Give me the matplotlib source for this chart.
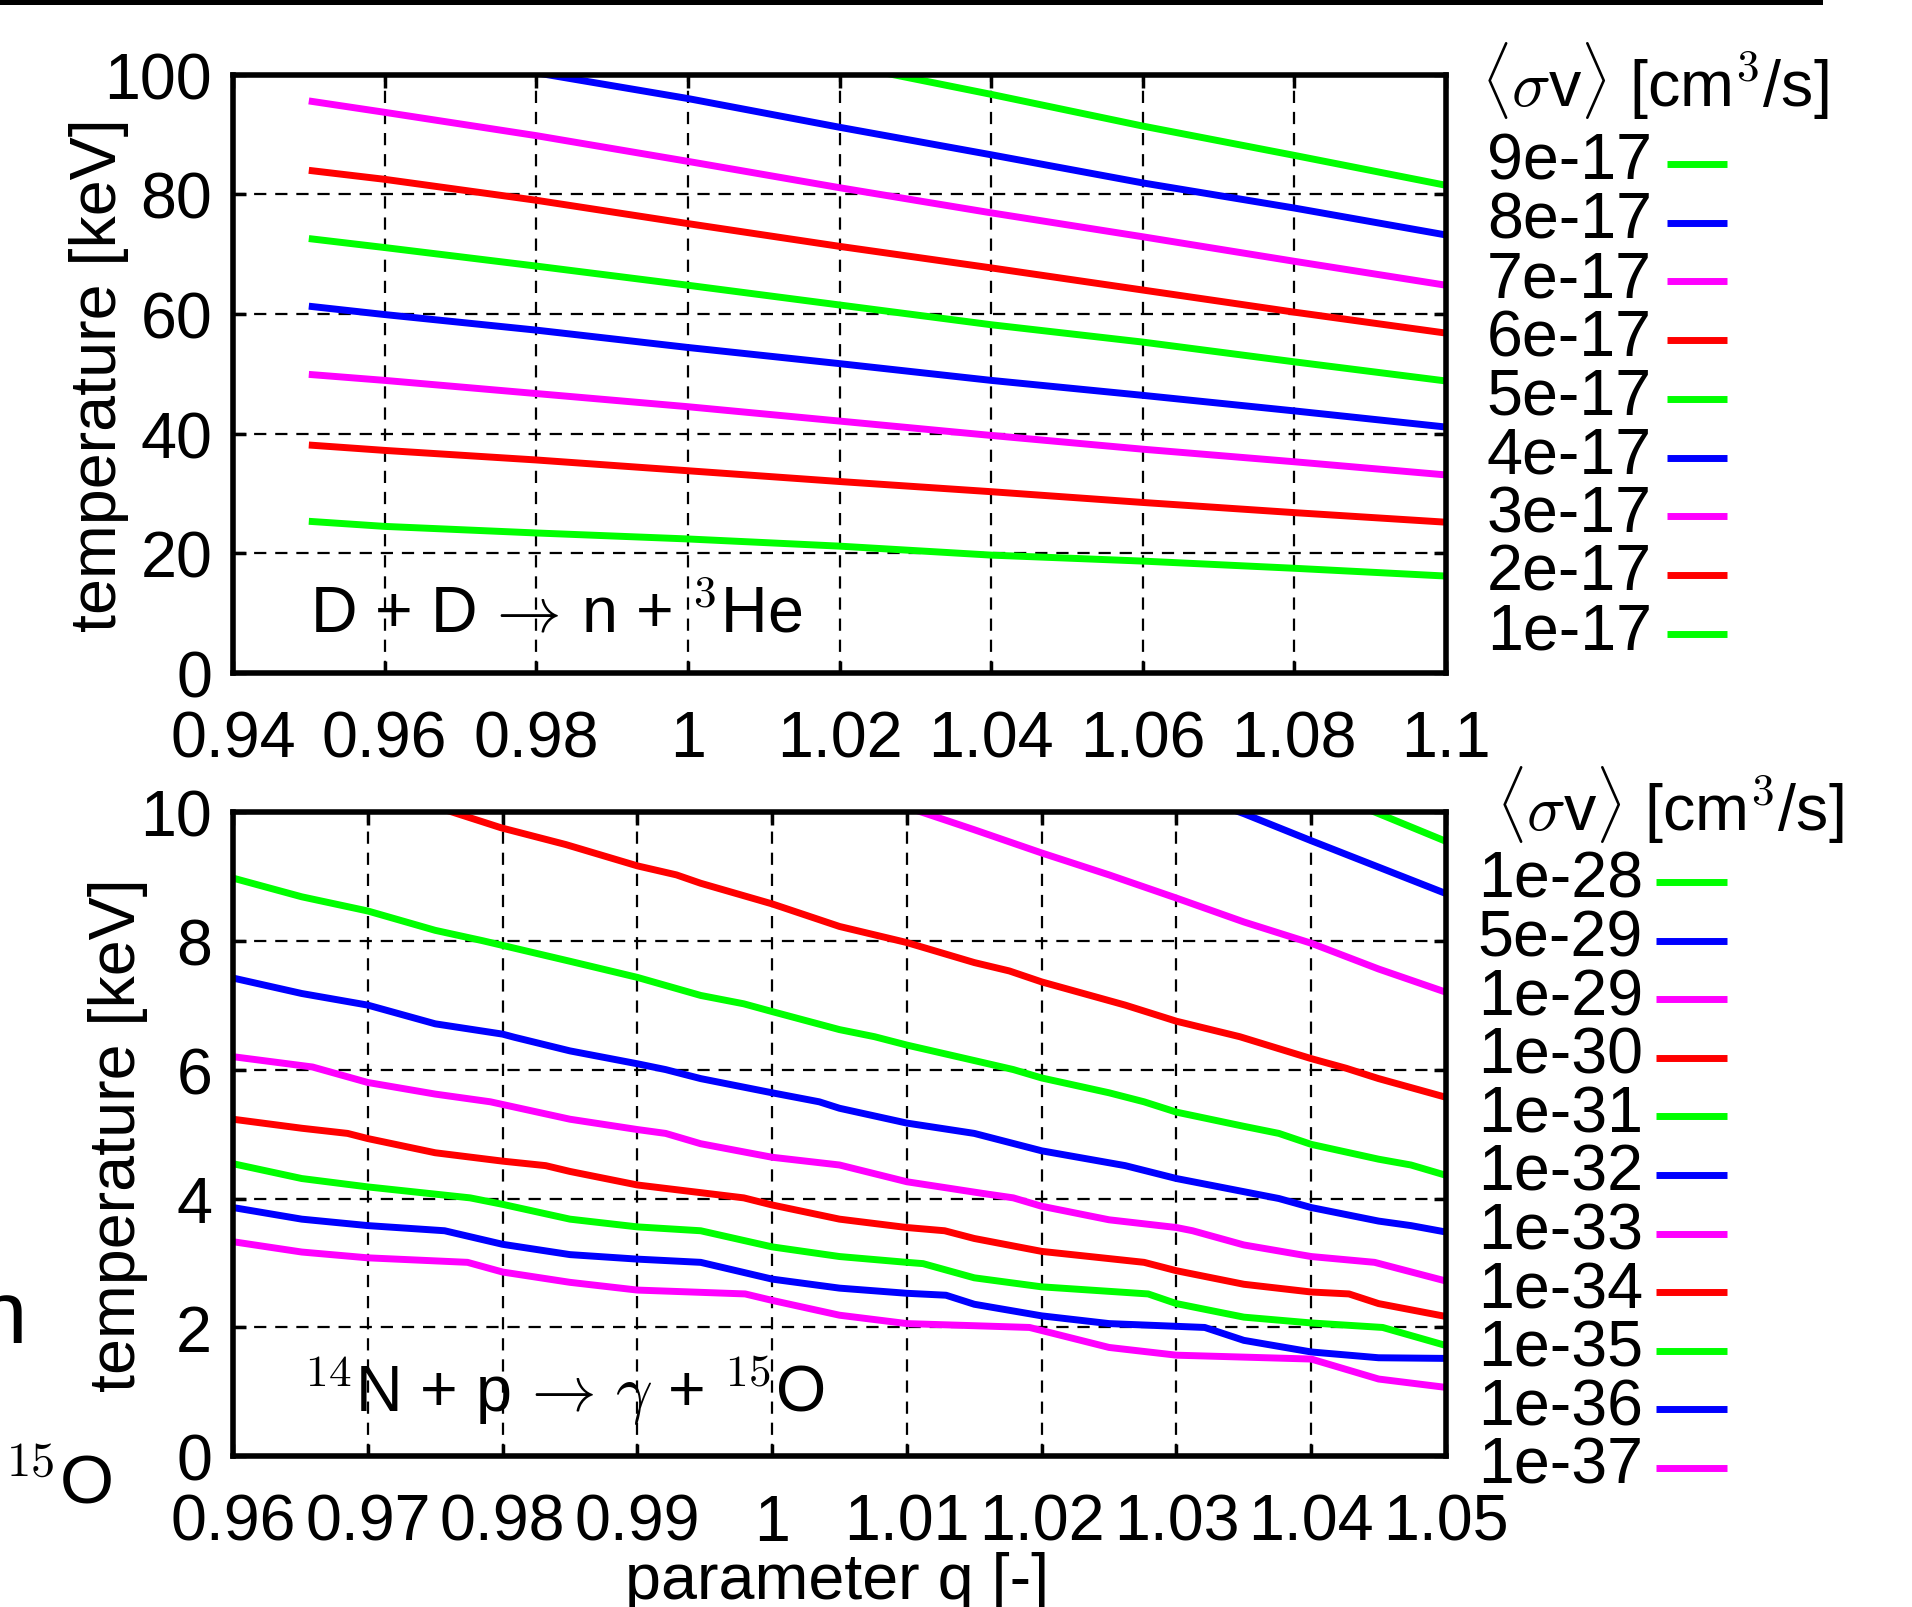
"""
Temperature vs. parameter q for fixed reactivity <sigma v>,
D + D -> n + 3He (top) and 14N + p -> gamma + 15O (bottom)
"""
import numpy as np
import matplotlib
matplotlib.use('Agg')
import matplotlib.pyplot as plt
from matplotlib.ticker import FormatStrFormatter
from matplotlib.lines import Line2D
from matplotlib.patches import Rectangle

plt.rcParams.update({
    'font.family': ['Liberation Sans', 'DejaVu Sans'],
    'font.size': 46.5,
    'mathtext.fontset': 'cm',
})

GREEN = '#00ff00'
BLUE = '#0000ff'
MAGENTA = '#ff00ff'
RED = '#ff0000'

# ---- D + D -> n + 3He, temperature [keV] ----
q_dd = [0.95, 0.96, 0.98, 1.00, 1.02, 1.04, 1.06, 1.08, 1.10]
T_dd_9e17 = [118.5, 116.0, 111.5, 106.6, 101.8, 96.7, 91.4, 86.5, 81.5]
T_dd_8e17 = [106.8, 104.6, 100.3, 96.0, 91.2, 86.6, 81.9, 77.7, 73.2]
T_dd_7e17 = [95.6, 93.7, 89.8, 85.5, 81.1, 76.9, 72.9, 68.8, 64.8]
T_dd_6e17 = [84.0, 82.5, 79.0, 75.1, 71.3, 67.7, 64.0, 60.3, 56.8]
T_dd_5e17 = [72.6, 71.1, 68.0, 64.8, 61.5, 58.2, 55.3, 52.0, 48.8]
T_dd_4e17 = [61.3, 59.9, 57.3, 54.4, 51.7, 48.9, 46.4, 43.8, 41.1]
T_dd_3e17 = [49.9, 48.9, 46.7, 44.5, 42.1, 39.7, 37.4, 35.3, 33.1]
T_dd_2e17 = [38.1, 37.2, 35.6, 33.8, 32.0, 30.3, 28.5, 26.8, 25.2]
T_dd_1e17 = [25.35, 24.5, 23.4, 22.4, 21.2, 19.7, 18.7, 17.5, 16.2]

dd_labels = ['9e-17', '8e-17', '7e-17', '6e-17', '5e-17',
             '4e-17', '3e-17', '2e-17', '1e-17']
dd_T = [T_dd_9e17, T_dd_8e17, T_dd_7e17, T_dd_6e17, T_dd_5e17,
        T_dd_4e17, T_dd_3e17, T_dd_2e17, T_dd_1e17]
dd_colors = [GREEN, BLUE, MAGENTA, RED, GREEN, BLUE, MAGENTA, RED, GREEN]

# ---- 14N + p -> gamma + 15O, contour vertices (q, T [keV]) ----
q_1e28 = [1.04, 1.045, 1.05]
T_1e28 = [10.40, 9.97, 9.54]

q_5e29 = [1.03, 1.035, 1.04, 1.045, 1.05]
T_5e29 = [10.35, 9.97, 9.55, 9.14, 8.73]

q_1e29 = [1.005, 1.01, 1.015, 1.02, 1.025, 1.03, 1.035, 1.04, 1.045, 1.05]
T_1e29 = [10.42, 10.07, 9.72, 9.36, 9.02, 8.66, 8.29, 7.96, 7.56, 7.20]

q_1e30 = [0.97, 0.975, 0.9799, 0.9847, 0.99, 0.9929, 0.9947, 1.0, 1.005, 1.01,
          1.015, 1.0176, 1.02, 1.0262, 1.03, 1.0347, 1.04, 1.0426, 1.045, 1.05]
T_1e30 = [10.45, 10.08, 9.75, 9.49, 9.16, 9.02, 8.89, 8.57, 8.22, 7.97,
          7.66, 7.53, 7.36, 7.00, 6.75, 6.51, 6.17, 6.02, 5.86, 5.57]

q_1e31 = [0.96, 0.9651, 0.97, 0.975, 0.9785, 0.985, 0.99, 0.9947, 0.9979, 1.0,
          1.005, 1.0076, 1.01, 1.015, 1.0179, 1.02, 1.025, 1.0276, 1.03, 1.035,
          1.0376, 1.04, 1.045, 1.0474, 1.05]
T_1e31 = [8.97, 8.68, 8.46, 8.16, 8.00, 7.68, 7.43, 7.15, 7.02, 6.90,
          6.62, 6.51, 6.38, 6.14, 6.00, 5.87, 5.64, 5.50, 5.34, 5.12,
          5.01, 4.84, 4.61, 4.52, 4.36]

q_1e32 = [0.96, 0.9651, 0.97, 0.975, 0.98, 0.9809, 0.985, 0.99, 0.9921, 0.9947,
          1.0, 1.0035, 1.005, 1.01, 1.015, 1.02, 1.0262, 1.03, 1.0376, 1.04,
          1.045, 1.0474, 1.05]
T_1e32 = [7.42, 7.18, 7.00, 6.71, 6.55, 6.50, 6.29, 6.09, 6.00, 5.86,
          5.64, 5.50, 5.40, 5.17, 5.01, 4.74, 4.51, 4.31, 4.00, 3.86,
          3.65, 3.58, 3.48]

q_1e33 = [0.96, 0.9659, 0.97, 0.975, 0.9791, 0.985, 0.99, 0.9921, 0.9947, 1.0,
          1.005, 1.01, 1.0156, 1.0179, 1.02, 1.025, 1.03, 1.0312, 1.035, 1.04,
          1.0447, 1.05]
T_1e33 = [6.20, 6.04, 5.80, 5.62, 5.50, 5.23, 5.07, 5.01, 4.85, 4.64,
          4.52, 4.26, 4.08, 4.01, 3.88, 3.67, 3.55, 3.50, 3.28, 3.10,
          3.01, 2.72]

q_1e34 = [0.96, 0.9651, 0.9685, 0.97, 0.975, 0.98, 0.9832, 0.985, 0.99, 0.9979,
          1.0, 1.005, 1.01, 1.0128, 1.015, 1.02, 1.0276, 1.03, 1.035, 1.04,
          1.0428, 1.045, 1.05]
T_1e34 = [5.23, 5.09, 5.01, 4.93, 4.71, 4.58, 4.51, 4.42, 4.21, 4.01,
          3.90, 3.68, 3.55, 3.50, 3.38, 3.18, 3.01, 2.88, 2.67, 2.55,
          2.52, 2.37, 2.17]

q_1e35 = [0.96, 0.9651, 0.97, 0.9776, 0.98, 0.985, 0.99, 0.9947, 1.0, 1.005,
          1.01, 1.0112, 1.015, 1.02, 1.0279, 1.03, 1.035, 1.04, 1.0453, 1.05]
T_1e35 = [4.54, 4.31, 4.18, 4.01, 3.91, 3.68, 3.56, 3.50, 3.25, 3.10,
          3.01, 2.99, 2.77, 2.63, 2.52, 2.37, 2.16, 2.07, 2.00, 1.72]

q_1e36 = [0.96, 0.9651, 0.97, 0.9757, 0.98, 0.985, 0.99, 0.9947, 1.0, 1.005,
          1.01, 1.0129, 1.015, 1.02, 1.025, 1.0321, 1.035, 1.04, 1.045, 1.05]
T_1e36 = [3.86, 3.68, 3.58, 3.50, 3.29, 3.13, 3.06, 3.01, 2.75, 2.61,
          2.53, 2.50, 2.36, 2.18, 2.06, 2.00, 1.80, 1.62, 1.53, 1.52]

q_1e37 = [0.96, 0.9651, 0.97, 0.9774, 0.98, 0.985, 0.99, 0.998, 1.0, 1.005,
          1.01, 1.0191, 1.025, 1.03, 1.04, 1.045, 1.05]
T_1e37 = [3.33, 3.17, 3.08, 3.01, 2.86, 2.70, 2.58, 2.52, 2.42, 2.19,
          2.06, 2.00, 1.69, 1.57, 1.51, 1.20, 1.07]

cno_labels = ['1e-28', '5e-29', '1e-29', '1e-30', '1e-31', '1e-32',
              '1e-33', '1e-34', '1e-35', '1e-36', '1e-37']
cno_q = [q_1e28, q_5e29, q_1e29, q_1e30, q_1e31, q_1e32,
         q_1e33, q_1e34, q_1e35, q_1e36, q_1e37]
cno_T = [T_1e28, T_5e29, T_1e29, T_1e30, T_1e31, T_1e32,
         T_1e33, T_1e34, T_1e35, T_1e36, T_1e37]
cno_colors = [GREEN, BLUE, MAGENTA, RED, GREEN, BLUE,
              MAGENTA, RED, GREEN, BLUE, MAGENTA]

# Figure in pixels
W, H = 1912, 1608
fig = plt.figure(figsize=(W/100, H/100), dpi=100)

LW = 5


def fx(px):
    return px/W


def fy(py):
    return 1 - py/H


def setup(ax, xlim, ylim, xticks, yticks):
    ax.set_xlim(xlim)
    ax.set_ylim(ylim)
    ax.set_xticks(xticks)
    ax.set_yticks(yticks)
    ax.xaxis.set_major_formatter(FormatStrFormatter('%g'))
    ax.yaxis.set_major_formatter(FormatStrFormatter('%g'))
    ax.tick_params(direction='in', top=True, right=True, length=9, width=2.5)
    ax.tick_params(axis='x', pad=26)
    ax.tick_params(axis='y', pad=15)
    ax.grid(True, color='black', lw=1.6, linestyle=(0, (5.5, 4)))
    for s in ax.spines.values():
        s.set_linewidth(4)


def key(lines, title, title_x, title_y, text_right, line_x0, line_x1, y0, step):
    fig.text(fx(title_x), fy(title_y), title, ha='left', va='baseline')
    for i, ln in enumerate(lines):
        yb = y0 + i*step
        fig.text(fx(text_right), fy(yb), ln.get_label(), ha='right', va='baseline')
        fig.add_artist(Line2D([fx(line_x0), fx(line_x1)], [fy(yb - 15)]*2,
                              transform=fig.transFigure, color=ln.get_color(),
                              lw=ln.get_linewidth(), solid_capstyle='butt'))


title = r'$\langle\sigma$v$\rangle$ [cm$^3$/s]'
arrow = r'$\!\rightarrow\!$'

# Top panel: D + D
ax1 = fig.add_axes([fx(233), fy(674), fx(1446) - fx(233), (674 - 75.6)/H])
dd_lines = []
for lab, T, c in zip(dd_labels, dd_T, dd_colors):
    ln, = ax1.plot(q_dd, T, color=c, lw=LW, solid_capstyle='butt', label=lab)
    dd_lines.append(ln)
setup(ax1, (0.94, 1.1), (0, 100), np.arange(0.94, 1.1001, 0.02), np.arange(0, 101, 20))
ax1.set_ylabel('temperature [keV]')
ax1.yaxis.set_label_coords(-0.0857, 0.5)
ax1.text(0.9502, 7.0, 'D + D ' + arrow + r' n + ${}^{3}$He', ha='left', va='baseline')
key(dd_lines, title, 1481, 106, 1652, 1667, 1727, 180, 58.7)

# Bottom panel: 14N + p
ax2 = fig.add_axes([fx(233), fy(1457.4), fx(1446) - fx(233), (1457.4 - 812.7)/H])
cno_lines = []
for lab, q, T, c in zip(cno_labels, cno_q, cno_T, cno_colors):
    ln, = ax2.plot(q, T, color=c, lw=LW, solid_capstyle='butt', label=lab)
    cno_lines.append(ln)
setup(ax2, (0.96, 1.05), (0, 10), np.arange(0.96, 1.0501, 0.01), np.arange(0, 11, 2))
ax2.set_ylabel('temperature [keV]')
ax2.yaxis.set_label_coords(-0.0701, 0.5)
ax2.set_xlabel('parameter q [-]')
ax2.xaxis.set_label_coords(0.498, -0.2196)
ax2.xaxis.label.set_va('baseline')
ax2.text(0.9652, 0.70, r'${}^{14}$N + p ' + arrow + r' $\gamma$ + ${}^{15}$O',
         ha='left', va='baseline')
key(cno_lines, title, 1496, 830, 1643, 1656, 1727, 898, 58.6)

# Leftover bits along the left and top edges
fig.text(fx(27), fy(1343), 'n', ha='right', va='baseline', fontsize=64)
fig.text(fx(3), fy(1503), r'${}^{15}$O', ha='left', va='baseline', fontsize=50)
fig.add_artist(Rectangle((0, fy(6)), fx(1823), 6/H, transform=fig.transFigure,
                         color='black', lw=0))

fig.savefig('out.png', dpi=100)
